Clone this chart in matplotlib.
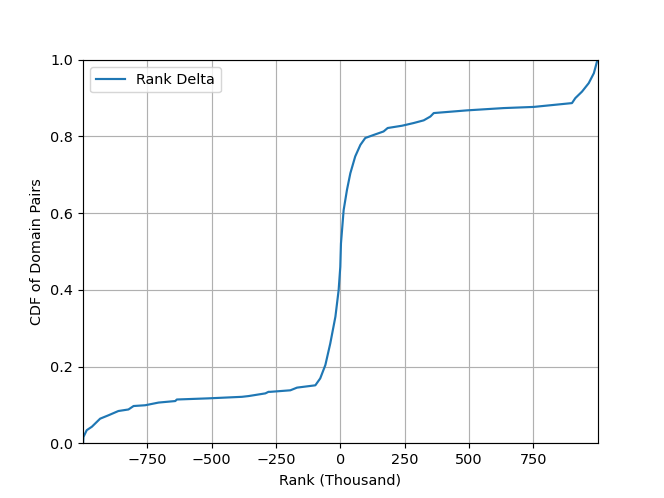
import numpy as np
import matplotlib
matplotlib.use("Agg")
import matplotlib.pyplot as plt

# rank delta (thousand) vs CDF
rank_delta = [-999, -998, -985, -965, -933, -900, -862, -823, -803, -758, -706,
              -641, -635, -512, -382, -356, -291, -279, -272, -194, -168, -97,
              -78, -58, -39, -19, -6.5, 0, 2.6, 13, 26, 39, 58, 78, 97, 130,
              168, 184, 240, 285, 324, 350, 363, 492, 635, 751, 900, 913, 939,
              965, 985, 999]
cdf = [0.0, 0.016, 0.034, 0.043, 0.064, 0.073, 0.084, 0.088, 0.097, 0.099, 0.106,
       0.110, 0.114, 0.117, 0.121, 0.123, 0.130, 0.134, 0.134, 0.138, 0.145, 0.151,
       0.169, 0.204, 0.260, 0.330, 0.399, 0.460, 0.521, 0.608, 0.661, 0.704, 0.748,
       0.778, 0.796, 0.804, 0.813, 0.822, 0.828, 0.835, 0.842, 0.852, 0.861, 0.868,
       0.874, 0.877, 0.887, 0.900, 0.917, 0.939, 0.965, 1.0]

fig = plt.figure(figsize=(6.4, 4.8), dpi=103.75)
plt.plot(rank_delta, cdf, label='Rank Delta')
plt.xlim(-999.5, 999.5)
plt.ylim(0, 1)
plt.xlabel('Rank (Thousand)')
plt.ylabel('CDF of Domain Pairs')
plt.grid(True)
plt.legend(loc='upper left')
plt.savefig('out.png', dpi=103.75)
